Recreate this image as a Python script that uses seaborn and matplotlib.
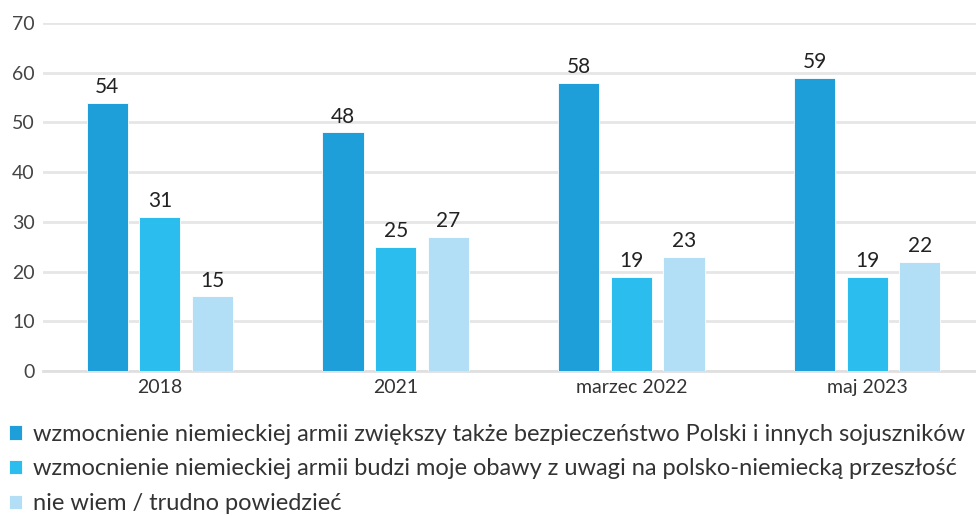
import matplotlib
matplotlib.use("Agg")
import matplotlib.pyplot as plt
import seaborn as sns
import pandas as pd

categories = ["2018", "2021", "marzec 2022", "maj 2023"]
series_names = [
    "wzmocnienie niemieckiej armii zwiększy także bezpieczeństwo Polski i innych sojuszników",
    "wzmocnienie niemieckiej armii budzi moje obawy z uwagi na polsko-niemiecką przeszłość",
    "nie wiem / trudno powiedzieć",
]
series_a = [54, 48, 58, 59]
series_b = [31, 25, 19, 19]
series_c = [15, 27, 23, 22]
colors = ["#1f9fd9", "#2cbdef", "#b2dff6"]

rows = []
for name, vals in zip(series_names, [series_a, series_b, series_c]):
    for cat, v in zip(categories, vals):
        rows.append({"kategoria": cat, "seria": name, "wartosc": v})
df = pd.DataFrame(rows)

sns.set_theme(style="white")
plt.rcParams["font.family"] = ["Lato", "DejaVu Sans"]

fig = plt.figure(figsize=(9.76, 5.16), dpi=100)
ax = fig.add_axes([43 / 976, 1 - 371 / 516, 1 - 43 / 976, (371 - 23) / 516])

sns.barplot(data=df, x="kategoria", y="wartosc", hue="seria", palette=colors,
            order=categories, hue_order=series_names, width=0.67, gap=0.22,
            saturation=1, edgecolor="white", linewidth=0.6, ax=ax, legend=True,
            zorder=3)

ax.set_ylim(0, 70)
ax.set_xlim(-0.496, 3.462)
ax.set_yticks(range(0, 71, 10))
ax.yaxis.grid(True, color="#e6e6e6", linewidth=2, zorder=0)
ax.set_axisbelow(True)
for s in ["top", "right", "left"]:
    ax.spines[s].set_visible(False)
ax.spines["bottom"].set_color("#e0e0e0")
ax.spines["bottom"].set_linewidth(2)
ax.set_xlabel("")
ax.set_ylabel("")
ax.tick_params(axis="y", length=0, pad=6, labelsize=14, labelcolor="#444444")
ax.tick_params(axis="x", length=0, pad=6, labelsize=14, labelcolor="#333333")

for cont in ax.containers:
    ax.bar_label(cont, padding=4, fontsize=15, color="#222222")

handles, labels = ax.get_legend_handles_labels()
ax.get_legend().remove()
leg = fig.legend(handles, labels, loc="upper left", bbox_to_anchor=(0.0, 0.197),
                 frameon=False, fontsize=17, handlelength=0.55, handleheight=0.55,
                 handletextpad=0.43, labelspacing=0.58, borderaxespad=0)
for t in leg.get_texts():
    t.set_color("#333333")

fig.savefig("out.png", dpi=100)
